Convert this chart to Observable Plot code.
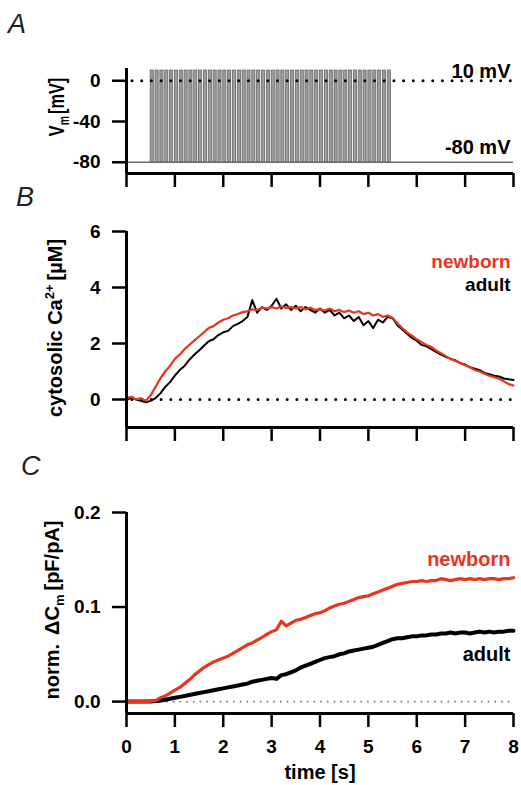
<!DOCTYPE html>
<html><head><meta charset="utf-8">
<script src="https://cdn.jsdelivr.net/npm/d3@7"></script>
<script src="https://cdn.jsdelivr.net/npm/@observablehq/plot@0.6"></script>
<style>
body{margin:0;background:#fff;}
#wrap{position:relative;width:521px;height:785px;overflow:hidden;font-family:"Liberation Sans",Arial,sans-serif;}
#wrap svg{position:absolute;left:0;}
</style></head><body><div id="wrap"></div>
<script>
// ---- data ----
const xTicks = [0, 1, 2, 3, 4, 5, 6, 7, 8];
const vTicks = [0, -40, -80];
const caTicks = [0, 2, 4, 6];
const cmTicks = [0.0, 0.1, 0.2];

// stimulus: 10 Hz train of depolarisations from -80 mV to +10 mV
const pulseOnsets = [0.5,0.6,0.7,0.8,0.9,1.0,1.1,1.2,1.3,1.4,1.5,1.6,1.7,1.8,1.9,2.0,2.1,2.2,2.3,2.4,2.5,2.6,2.7,2.8,2.9,3.0,3.1,3.2,3.3,3.4,3.5,3.6,3.7,3.8,3.9,4.0,4.1,4.2,4.3,4.4,4.5,4.6,4.7,4.8,4.9,5.0,5.1,5.2,5.3,5.4];
const pulseWidth = 0.065;
const pulseHigh = 10;
const holding = -80;

const time = [0,0.1,0.2,0.3,0.4,0.5,0.6,0.7,0.8,0.9,1,1.1,1.2,1.3,1.4,1.5,1.6,1.7,1.8,1.9,2,2.1,2.2,2.3,2.4,2.5,2.6,2.7,2.8,2.9,3,3.1,3.2,3.3,3.4,3.5,3.6,3.7,3.8,3.9,4,4.1,4.2,4.3,4.4,4.5,4.6,4.7,4.8,4.9,5,5.1,5.2,5.3,5.4,5.5,5.6,5.7,5.8,5.9,6,6.1,6.2,6.3,6.4,6.5,6.6,6.7,6.8,6.9,7,7.1,7.2,7.3,7.4,7.5,7.6,7.7,7.8,7.9,8];

const caNewborn = [0.05,0.1,0.0,0.05,-0.05,0.15,0.45,0.75,1.0,1.2,
  1.45,1.6,1.8,1.95,2.1,2.25,2.4,2.55,2.62,2.75,
  2.85,2.9,3.0,3.05,3.12,3.15,3.22,3.2,3.28,3.25,
  3.3,3.25,3.32,3.27,3.3,3.25,3.3,3.22,3.28,3.2,
  3.22,3.18,3.25,3.15,3.2,3.12,3.18,3.1,3.15,3.05,
  3.1,3.0,3.05,2.95,3.0,2.92,2.72,2.55,2.4,2.28,
  2.15,2.05,1.95,1.88,1.75,1.65,1.55,1.45,1.38,1.3,
  1.22,1.15,1.05,1.0,0.92,0.85,0.8,0.74,0.65,0.55,
  0.5];
const caAdult = [0.0,0.05,0.0,-0.05,-0.1,-0.05,0.05,0.22,0.45,0.62,
  0.85,1.05,1.2,1.42,1.6,1.75,1.92,2.08,2.15,2.3,
  2.4,2.45,2.62,2.7,2.8,2.95,3.55,3.1,3.3,3.2,
  3.35,3.6,3.25,3.4,3.2,3.35,3.15,3.3,3.2,3.1,
  3.25,3.1,3.2,3.0,3.1,2.9,3.0,2.8,2.95,2.65,
  2.8,2.55,2.85,2.75,2.95,2.9,2.65,2.5,2.35,2.2,
  2.1,1.95,1.9,1.8,1.7,1.6,1.52,1.45,1.4,1.3,
  1.25,1.15,1.1,1.05,0.95,0.9,0.85,0.82,0.75,0.72,
  0.7];
const cmNewborn = [0,0,0,0,0,0.0005,0.001,0.004,0.006,0.009,
  0.012,0.015,0.019,0.023,0.028,0.032,0.036,0.039,0.042,0.044,
  0.046,0.048,0.051,0.054,0.057,0.06,0.062,0.065,0.068,0.071,
  0.074,0.076,0.085,0.080,0.083,0.086,0.087,0.089,0.091,0.093,
  0.094,0.096,0.099,0.101,0.103,0.104,0.106,0.108,0.110,0.111,
  0.112,0.114,0.116,0.118,0.120,0.122,0.124,0.125,0.126,0.127,
  0.127,0.128,0.127,0.128,0.128,0.130,0.129,0.128,0.129,0.130,
  0.129,0.130,0.129,0.130,0.129,0.130,0.130,0.129,0.130,0.130,
  0.131];
const cmAdult = [0,0,0,0,0,0,0.0005,0.001,0.002,0.003,
  0.004,0.005,0.006,0.007,0.008,0.009,0.010,0.011,0.012,0.013,
  0.014,0.015,0.016,0.017,0.018,0.019,0.021,0.022,0.023,0.024,
  0.025,0.024,0.028,0.029,0.031,0.033,0.036,0.038,0.040,0.042,
  0.044,0.046,0.047,0.048,0.050,0.051,0.053,0.054,0.055,0.056,
  0.057,0.058,0.060,0.062,0.064,0.066,0.067,0.067,0.068,0.069,
  0.069,0.070,0.070,0.071,0.071,0.072,0.072,0.073,0.072,0.073,
  0.073,0.072,0.073,0.074,0.073,0.074,0.073,0.074,0.074,0.075,
  0.075];

// ---- helpers ----
const RED = "#e8351f";
const W = 521;
const wrap = document.getElementById("wrap");
const rows = (ys) => time.map((t, i) => ({t, v: ys[i]}));
const baseStyle = {fontFamily: '"Liberation Sans", Arial, sans-serif', fontSize: "19px", fontWeight: "bold", background: "transparent", overflow: "visible"};

function frameMarks(yDomain, yTicks, yFmt, xLabels) {
  return [
    Plot.ruleX([0], {stroke: "black", strokeWidth: 3}),
    Plot.ruleY([yDomain[0]], {stroke: "black", strokeWidth: 3}),
    Plot.axisY({ticks: yTicks, tickSize: 14, tickPadding: 12, tickFormat: yFmt, label: null, strokeWidth: 2.5, fontSize: 19}),
    Plot.axisX({ticks: xTicks, tickSize: 14, tickPadding: 12, tickFormat: xLabels ? (d => String(d)) : (() => ""), label: null, strokeWidth: 2.5, fontSize: 19})
  ];
}
function place(svg, top) { svg.style.top = top + "px"; wrap.appendChild(svg); }

// ---- panel A ----
const yA = [-91, 12];
place(Plot.plot({
  width: W, height: 193, marginTop: 68, marginBottom: 20, marginLeft: 126, marginRight: 8,
  style: baseStyle,
  x: {domain: [0, 8]}, y: {domain: yA},
  marks: [
    Plot.ruleY([holding], {stroke: "#6a6a6a", strokeWidth: 1.5}),
    Plot.rect(pulseOnsets, {x1: d => d, x2: d => d + pulseWidth, y1: holding, y2: pulseHigh, fill: "#9c9c9c", stroke: "#666", strokeWidth: 0.8}),
    Plot.ruleY([0], {stroke: "black", strokeWidth: 3, strokeDasharray: "0 9.7", strokeLinecap: "round", strokeDashoffset: -6}),
    Plot.text(["10 mV"], {x: 8, y: 3, text: d => d, textAnchor: "end", lineAnchor: "bottom", dx: -3, fontSize: 20, fill: "black"}),
    Plot.text(["-80 mV"], {x: 8, y: -71.5, text: d => d, textAnchor: "end", lineAnchor: "bottom", dx: -3, fontSize: 20, fill: "black"}),
    ...frameMarks(yA, vTicks, d => String(d), false)
  ]
}), 0);

// ---- panel B ----
const yB = [-1, 6];
place(Plot.plot({
  width: W, height: 247, marginTop: 31, marginBottom: 20, marginLeft: 126, marginRight: 8,
  style: baseStyle,
  x: {domain: [0, 8]}, y: {domain: yB},
  marks: [
    Plot.ruleY([0], {stroke: "black", strokeWidth: 3, strokeDasharray: "0 9.7", strokeLinecap: "round", strokeDashoffset: -6}),
    Plot.line(rows(caAdult), {x: "t", y: "v", stroke: "black", strokeWidth: 2}),
    Plot.line(rows(caNewborn), {x: "t", y: "v", stroke: RED, strokeWidth: 2.2}),
    Plot.text(["newborn"], {x: 8, y: 4.7, text: d => d, textAnchor: "end", lineAnchor: "bottom", dx: -3, fontSize: 19, fill: RED}),
    Plot.text(["adult"], {x: 8, y: 3.86, text: d => d, textAnchor: "end", lineAnchor: "bottom", dx: -3, fontSize: 19, fill: "black"}),
    ...frameMarks(yB, caTicks, d => String(d), false)
  ]
}), 200);

// ---- panel C ----
const yC = [-0.0126, 0.2];
place(Plot.plot({
  width: W, height: 335, marginTop: 62, marginBottom: 72, marginLeft: 126, marginRight: 8,
  style: baseStyle,
  x: {domain: [0, 8]}, y: {domain: yC},
  marks: [
    Plot.ruleY([0], {stroke: "#777", strokeWidth: 1.6, strokeDasharray: "1.6 5.1", strokeDashoffset: -20}),
    Plot.line(rows(cmAdult), {x: "t", y: "v", stroke: "black", strokeWidth: 4}),
    Plot.line(rows(cmNewborn), {x: "t", y: "v", stroke: RED, strokeWidth: 3.2}),
    Plot.text(["newborn"], {x: 8, y: 0.1436, text: d => d, textAnchor: "end", lineAnchor: "bottom", dx: -3, fontSize: 20, fill: RED}),
    Plot.text(["adult"], {x: 8, y: 0.043, text: d => d, textAnchor: "end", lineAnchor: "bottom", dx: -3, fontSize: 20, fill: "black"}),
    ...frameMarks(yC, cmTicks, d => d.toFixed(1), true)
  ]
}), 450);

// ---- overlay: panel letters and axis titles ----
const ov = d3.select(wrap).append("svg").attr("width", W).attr("height", 785).style("top", "0px")
  .style("pointer-events", "none").style("font-family", '"Liberation Sans", Arial, sans-serif');
const letter = (s, x, y) => ov.append("text").attr("x", x).attr("y", y).attr("font-size", 27)
  .attr("font-style", "italic").attr("fill", "#222").text(s);
letter("A", 8, 33);
letter("B", 16, 206);
letter("C", 21, 475);

const tA = ov.append("text").attr("transform", "translate(64,107) rotate(-90) scale(0.74,1)")
  .attr("text-anchor", "middle").attr("font-size", 22).attr("font-weight", "bold");
tA.append("tspan").text("V");
tA.append("tspan").attr("dy", 5).attr("font-size", 14).text("m");
tA.append("tspan").attr("dy", -5).attr("dx", 3).text("[mV]");

const tB = ov.append("text").attr("transform", "translate(62,328) rotate(-90)")
  .attr("text-anchor", "middle").attr("font-size", 20).attr("font-weight", "bold");
tB.append("tspan").text("cytosolic Ca");
tB.append("tspan").attr("dy", -8).attr("font-size", 13).text("2+");
tB.append("tspan").attr("dy", 8).attr("dx", 4).text("[µM]");

const tC = ov.append("text").attr("transform", "translate(59,610) rotate(-90)")
  .attr("text-anchor", "middle").attr("font-size", 20).attr("font-weight", "bold");
tC.append("tspan").text("norm.");
tC.append("tspan").attr("dx", 9).text("ΔC");
tC.append("tspan").attr("dy", 5).attr("font-size", 13).text("m");
tC.append("tspan").attr("dy", -5).attr("dx", 4).text("[pF/pA]");

ov.append("text").attr("x", 320).attr("y", 779).attr("text-anchor", "middle")
  .attr("font-size", 20).attr("font-weight", "bold").text("time [s]");
</script></body></html>
